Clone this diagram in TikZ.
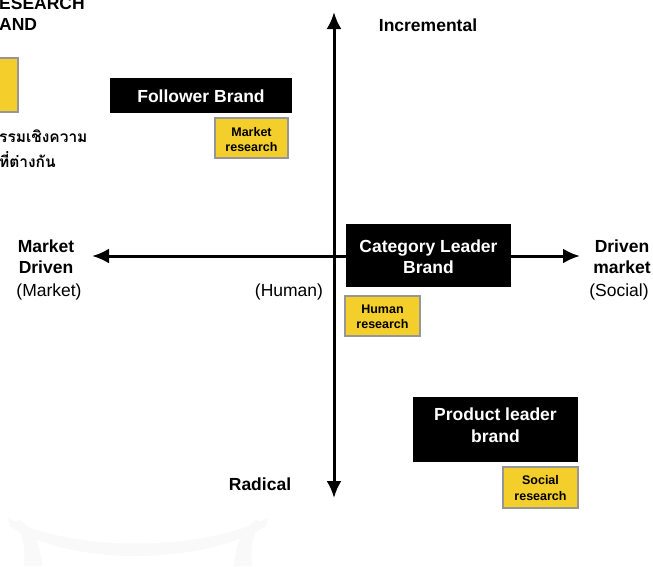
\documentclass[tikz,border=0pt]{standalone}
\usepackage{fontspec}
\setmainfont{Liberation Sans}
\newfontfamily\thaifont[Script=Thai]{Loma}
\usetikzlibrary{arrows.meta}
\definecolor{brandyellow}{RGB}{244,206,42}
\definecolor{boxedge}{RGB}{150,150,150}
\tikzset{
  axisline/.style={line width=3pt,-{Latex[length=17pt,width=15pt]}},
  brandbox/.style={fill=black,inner sep=0pt},
  brandtext/.style={text=white,font=\fontsize{17.5}{21.5}\selectfont\bfseries,align=center,inner sep=0pt},
  researchbox/.style={fill=brandyellow,draw=boxedge,line width=1.4pt,font=\fontsize{12.5}{15.5}\selectfont\bfseries,align=center,inner sep=0pt},
  boldlabel/.style={font=\fontsize{17.5}{21}\selectfont\bfseries,align=center,inner sep=0pt},
  plainlabel/.style={font=\fontsize{17.5}{21}\selectfont,align=center,inner sep=0pt},
  thailabel/.style={anchor=west,inner sep=0pt,font=\thaifont\fontsize{15.5}{22}\selectfont\bfseries}
}
\begin{document}
\begin{tikzpicture}[x=1pt,y=-1pt]
\useasboundingbox (0,0) rectangle (653,566);
\fill[white] (0,0) rectangle (653,566);

% faint emblem at the foot of the page
\begin{scope}[fill=gray!5]
  \fill (8,518) .. controls (70,552) and (200,552) .. (268,518)
        -- (266,526) .. controls (200,566) and (70,566) .. (10,526) -- cycle;
  \fill (20,520) .. controls (35,530) and (40,545) .. (42,566) -- (24,566) .. controls (26,545) and (22,530) .. (14,522) -- cycle;
  \fill (256,520) .. controls (241,530) and (236,545) .. (234,566) -- (252,566) .. controls (250,545) and (254,530) .. (262,522) -- cycle;
\end{scope}

% axes
\coordinate (top) at (334,12);
\coordinate (bottom) at (334,498);
\coordinate (left) at (92,256);
\coordinate (right) at (580,256);
\coordinate (centre) at (334,256);
\draw[axisline] (centre) -- (top);
\draw[axisline] (centre) -- (bottom);
\draw[axisline] (centre) -- (left);
\draw[axisline] (centre) -- (right);

% axis labels
\node[boldlabel] (incr) at (428,25) {Incremental};
\node[boldlabel] (radical) at (260,484) {Radical};
\node[boldlabel] (mdriven) at (46,256.5) {Market\\Driven};
\node[plainlabel] (mkt) at (49,292) {(Market)};
\node[plainlabel] (hum) at (289,292) {(Human)};
\node[boldlabel] (dmarket) at (622,256.5) {Driven\\market};
\node[plainlabel] (soc) at (619,292) {(Social)};

% brands
\node[brandbox,minimum width=182pt,minimum height=35pt] (follower) at (201,95.5) {};
\node[brandtext] (followertxt) at (201,96.5) {Follower Brand};
\node[brandbox,minimum width=165pt,minimum height=63pt] (category) at (428.5,255.5) {};
\node[brandtext] (categorytxt) at (428.5,256.5) {Category Leader\\Brand};
\node[brandbox,minimum width=165pt,minimum height=65pt] (product) at (495.5,429.5) {};
\node[brandtext] (producttxt) at (495.5,425) {Product leader\\brand};

% research types
\node[researchbox,minimum width=73pt,minimum height=40pt] (mres) at (251.5,138) {};
\node[researchbox,draw=none,fill=none] (mrestxt) at (251.5,139.5) {Market\\research};
\node[researchbox,minimum width=75pt,minimum height=40pt] (hres) at (382.5,316) {};
\node[researchbox,draw=none,fill=none] (hrestxt) at (382.5,317) {Human\\research};
\node[researchbox,minimum width=75pt,minimum height=41pt] (sres) at (540.5,487.5) {};
\node[researchbox,draw=none,fill=none] (srestxt) at (540.5,488) {Social\\research};

% edge of the neighbouring panel
\node[boldlabel,anchor=west] (esearch) at (-1,3) {ESEARCH};
\node[boldlabel,anchor=west] (andtxt) at (-1,24) {AND};
\draw[fill=brandyellow,draw=boxedge,line width=1.4pt] (-5,58) rectangle (18,112);
\node[thailabel] (thai1) at (-1,136) {รรมเชิงความ};
\node[thailabel] (thai2) at (-1,160) {ที่ต่างกัน};
\end{tikzpicture}
\end{document}
